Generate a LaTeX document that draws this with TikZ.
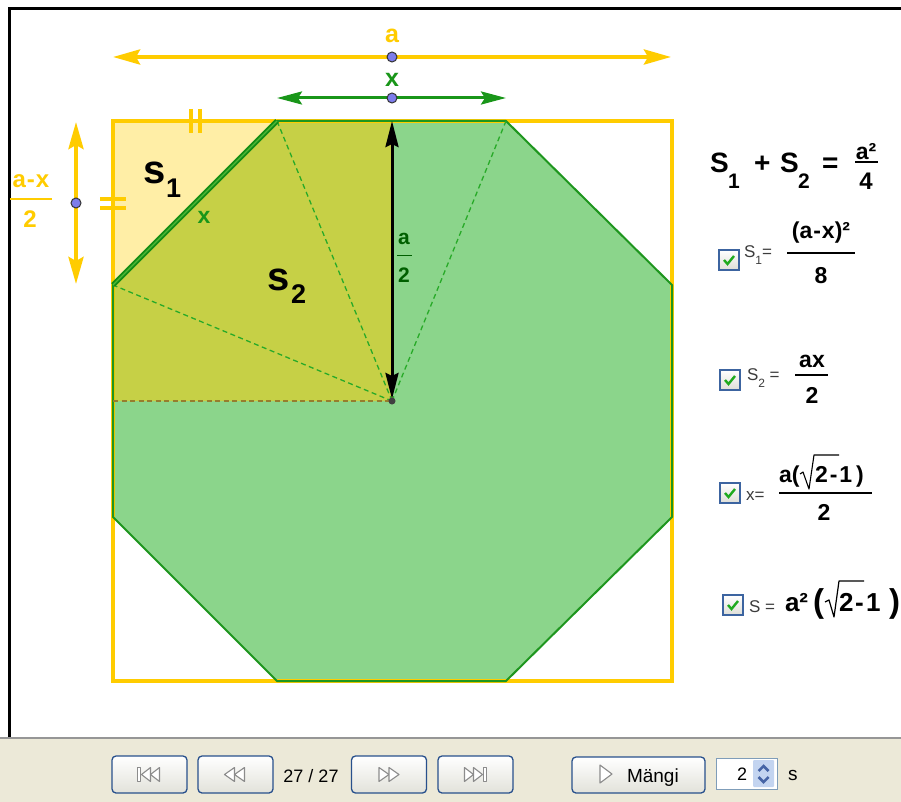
\documentclass[tikz,border=0pt]{standalone}
\usepackage{fontspec}
\setmainfont{Liberation Sans}
\usetikzlibrary{arrows.meta}
\newcommand{\myfs}[1]{\fontsize{#1}{#1}\selectfont}
\definecolor{gyel}{RGB}{255,204,0}
\definecolor{lyel}{RGB}{255,238,166}
\definecolor{myolive}{RGB}{198,208,70}
\definecolor{mygreen}{RGB}{139,213,139}
\definecolor{edgegreen}{RGB}{30,150,30}
\definecolor{diagdark}{RGB}{20,140,20}
\definecolor{diaglight}{RGB}{80,185,55}
\definecolor{dashgreen}{RGB}{40,170,40}
\definecolor{dashbrown}{RGB}{150,125,45}
\definecolor{labgreen}{RGB}{25,150,25}
\definecolor{darkgreenlab}{RGB}{0,95,0}
\definecolor{dotblue}{RGB}{125,125,235}
\definecolor{chkblue}{RGB}{60,100,160}
\definecolor{chkgray}{RGB}{222,222,215}
\definecolor{chkgreen}{RGB}{30,170,30}
\definecolor{barbg}{RGB}{236,233,216}
\definecolor{btnborder}{RGB}{40,80,140}
\definecolor{btnbot}{RGB}{226,226,218}
\definecolor{icongray}{RGB}{140,140,140}
\definecolor{spinborder}{RGB}{127,157,185}
\definecolor{spinfill}{RGB}{195,212,240}
\definecolor{spinarrow}{RGB}{70,100,165}
\definecolor{labgray}{RGB}{60,60,60}
\definecolor{sepgray}{RGB}{150,150,150}
\begin{document}
\begin{tikzpicture}[x=1pt,y=-1pt,
  txt/.style={inner sep=0pt,outer sep=0pt},
  bf/.style={txt,font=\myfs{#1}\bfseries},
  rg/.style={txt,font=\myfs{#1}},
  bdot/.style={circle,draw=black!80,line width=1pt,fill=dotblue,minimum size=10pt,inner sep=0pt},
  yarr/.style={gyel,line width=4pt,{Stealth[length=27pt,width=15pt,inset=4pt]}-{Stealth[length=27pt,width=15pt,inset=4pt]}},
  garr/.style={labgreen,line width=3pt,{Stealth[length=25pt,width=13pt,inset=4pt]}-{Stealth[length=25pt,width=13pt,inset=4pt]}},
  karr/.style={black,line width=3pt,{Stealth[length=26pt,width=13pt,inset=3pt]}-{Stealth[length=26pt,width=13pt,inset=3pt]}},
  dsh/.style={dashgreen,line width=1.3pt,dash pattern=on 5pt off 3.5pt},
  tickmark/.style={gyel,line width=4pt},
  chk/.style={draw=chkblue,line width=1.2pt,minimum size=20pt,inner sep=0pt,top color=white,bottom color=chkgray},
  chkmark/.style={chkgreen,line width=2.4pt},
  btn/.style={draw=btnborder,line width=1.3pt,rounded corners=4pt,top color=white,bottom color=btnbot,minimum width=75pt,minimum height=37pt,inner sep=0pt},
  icon/.style={draw=icongray,fill=white,line width=1.1pt,line join=round},
  fbar/.style={line width=1.4pt},
]
\useasboundingbox (0,0) rectangle (901,802);
\fill[white] (0,0) rectangle (901,802);
% toolbar background
\fill[barbg] (0,738) rectangle (901,802);
\draw[sepgray,line width=2pt] (0,737.5) -- (901,737.5);
% black frame
\draw[line width=3pt] (9,737) -- (9,9) -- (901,9);

% geometry
\coordinate (Q1) at (113,121);
\coordinate (Q2) at (672,121);
\coordinate (Q3) at (672,681);
\coordinate (Q4) at (113,681);
\coordinate (A) at (277,121);
\coordinate (B) at (506,121);
\coordinate (C) at (672,285);
\coordinate (D) at (672,517);
\coordinate (E) at (506,681);
\coordinate (F) at (277,681);
\coordinate (G) at (113,517);
\coordinate (H) at (113,285);
\coordinate (O) at (392,401);
\coordinate (T) at (392,121);
\coordinate (L) at (113,401);

\fill[mygreen] (A) -- (B) -- (C) -- (D) -- (E) -- (F) -- (G) -- (H) -- cycle;
\fill[myolive] (A) -- (T) -- (O) -- (L) -- (H) -- cycle;
\fill[lyel] (Q1) -- (A) -- (H) -- cycle;
\draw[gyel,line width=4pt] (Q1) -- (Q2) -- (Q3) -- (Q4) -- cycle;
\draw[edgegreen,line width=2pt,line join=round] (A) -- (B) -- (C) -- (D) -- (E) -- (F) -- (G) -- (H) -- cycle;
\draw[dsh] (O) -- (A);
\draw[dsh] (O) -- (B);
\draw[dsh] (O) -- (H);
\draw[dashbrown,line width=1.3pt,dash pattern=on 5pt off 3.5pt] (L) -- (O);
\draw[diagdark,line width=5pt] (H) -- (A);
\draw[diaglight,line width=1.3pt] (H) -- (A);
\draw[karr,shorten >=2pt] (T) -- (O);
\node[circle,fill=black!75,minimum size=7pt,inner sep=0pt] (Odot) at (O) {};

% tick marks
\draw[tickmark] (190.5,109) -- (190.5,133);
\draw[tickmark] (199.5,109) -- (199.5,133);
\draw[tickmark] (100,199) -- (126,199);
\draw[tickmark] (100,208) -- (126,208);

% top arrows
\coordinate (aL) at (113,57);
\coordinate (aR) at (671,57);
\draw[yarr] (aL) -- (aR);
\node[bdot] (da) at (392,57) {};
\node[bf=25,anchor=base,text=gyel] (la) at (392,43) {a};
\coordinate (xL) at (277,98);
\coordinate (xR) at (506,98);
\draw[garr] (xL) -- (xR);
\node[bdot] (dx) at (392,98) {};
\node[bf=25,anchor=base,text=labgreen] (lx) at (392,87) {x};

% left vertical arrow
\coordinate (vT) at (76,122);
\coordinate (vB) at (76,284);
\draw[yarr] (vT) -- (vB);
\node[bdot] (dv) at (76,203) {};
\node[bf=24,anchor=base,text=gyel] (lxn) at (31,188) {a\kern1pt-\kern1pt x};
\draw[gyel,fbar] (10,199) -- (52,199);
\node[bf=24,anchor=base,text=gyel] (lxd) at (30,227) {2};

% labels in figure
\node[bf=40,anchor=base west] (s1) at (143,184) {s};
\node[bf=27,anchor=base west] (s1i) at (166,198) {1};
\node[bf=40,anchor=base west] (s2) at (267,290) {s};
\node[bf=27,anchor=base west] (s2i) at (291,303) {2};
\node[bf=23,anchor=base,text=labgreen] (xd) at (204,223) {x};
\node[bf=21,anchor=base,text=darkgreenlab] (ahn) at (404,244) {a};
\draw[darkgreenlab,fbar] (397,255.5) -- (412,255.5);
\node[bf=21,anchor=base,text=darkgreenlab] (ahd) at (404,282) {2};

% big formula
\node[bf=28,anchor=base west] (S1big) at (710,173) {S};
\node[bf=21,anchor=base west] (S1sub) at (728,189) {1};
\node[bf=28,anchor=base west] (plus) at (754,173) {+};
\node[bf=28,anchor=base west] (S2big) at (780,173) {S};
\node[bf=21,anchor=base west] (S2sub) at (798,189) {2};
\node[bf=28,anchor=base west] (eqbig) at (822,173) {=};
\node[bf=23,anchor=base] (fbn) at (866,160) {a²};
\draw[fbar] (855,162) -- (878,162);
\node[bf=24,anchor=base] (fbd) at (866,190) {4};

% row 1
\node[chk] (c1) at (729,260) {};
\draw[chkmark] ([shift={(-5,0)}]c1.center) -- ([shift={(-1.5,4)}]c1.center) -- ([shift={(5,-4)}]c1.center);
\node[rg=17,anchor=base west,text=labgray] (l1) at (744,258) {S\raisebox{-6pt}{\myfs{12}1}=};
\node[bf=23,anchor=base] (n1) at (821,238) {(a\kern1pt-\kern1pt x)²};
\draw[fbar] (787,253) -- (855,253);
\node[bf=23,anchor=base] (d1) at (821,283) {8};

% row 2
\node[chk] (c2) at (730,380) {};
\draw[chkmark] ([shift={(-5,0)}]c2.center) -- ([shift={(-1.5,4)}]c2.center) -- ([shift={(5,-4)}]c2.center);
\node[rg=17,anchor=base west,text=labgray] (l2) at (747,380) {S\raisebox{-7pt}{\myfs{12}2} =};
\node[bf=23,anchor=base] (n2) at (812,367) {ax};
\draw[fbar] (795,375) -- (828,375);
\node[bf=23,anchor=base] (d2) at (812,403) {2};

% row 3
\node[chk] (c3) at (730,493) {};
\draw[chkmark] ([shift={(-5,0)}]c3.center) -- ([shift={(-1.5,4)}]c3.center) -- ([shift={(5,-4)}]c3.center);
\node[rg=17,anchor=base west,text=labgray] (l3) at (746,500) {x=};
\node[bf=23,anchor=base west] (n3a) at (779,482) {a(};
\draw[line width=1.1pt,line join=round] (800,474) -- (803,472) -- (809,489) -- (814,455) -- (839,455);
\node[bf=23,anchor=base west] (n3b) at (815,482) {2\kern2pt-\kern2pt1\kern4pt)};
\draw[fbar] (779,493) -- (872,493);
\node[bf=23,anchor=base] (d3) at (824,520) {2};

% row 4
\node[chk] (c4) at (733,605) {};
\draw[chkmark] ([shift={(-5,0)}]c4.center) -- ([shift={(-1.5,4)}]c4.center) -- ([shift={(5,-4)}]c4.center);
\node[rg=17,anchor=base west,text=labgray] (l4) at (749,612) {S =};
\node[bf=26,anchor=base west] (r4a) at (785,611) {a²};
\node[bf=33,anchor=base west] (r4p) at (813,612) {(};
\draw[line width=1.2pt,line join=round] (825,602) -- (829,600) -- (834,617) -- (839,581) -- (864,581);
\node[bf=26,anchor=base west] (r4b) at (839,611) {2};
\node[bf=26,anchor=base west] (r4c) at (855,611) {-};
\node[bf=26,anchor=base west] (r4d) at (866,611) {1};
\node[bf=33,anchor=base west] (r4q) at (889,612) {)};

% toolbar buttons
\node[btn] (b1) at (149.5,774.5) {};
\node[btn] (b2) at (235.5,774.5) {};
\node[btn] (b3) at (389,774.5) {};
\node[btn] (b4) at (475.5,774.5) {};
\begin{scope}[shift={(b1.center)}]
  \draw[icon] (-12,-7) rectangle (-9,7);
  \draw[icon] (-8,0) -- (1,-7) -- (1,7) -- cycle;
  \draw[icon] (1,0) -- (10,-7) -- (10,7) -- cycle;
\end{scope}
\begin{scope}[shift={(b2.center)}]
  \draw[icon] (-11,0) -- (-1,-7) -- (-1,7) -- cycle;
  \draw[icon] (-1,0) -- (9,-7) -- (9,7) -- cycle;
\end{scope}
\begin{scope}[shift={(b3.center)}]
  \draw[icon] (-10,-7) -- (0,0) -- (-10,7) -- cycle;
  \draw[icon] (0,-7) -- (10,0) -- (0,7) -- cycle;
\end{scope}
\begin{scope}[shift={(b4.center)}]
  \draw[icon] (-11,-7) -- (-2,0) -- (-11,7) -- cycle;
  \draw[icon] (-2,-7) -- (7,0) -- (-2,7) -- cycle;
  \draw[icon] (8,-7) rectangle (11,7);
\end{scope}
\node[rg=18,anchor=base] (cnt) at (311,782) {27 / 27};
\node[btn,minimum width=133pt,minimum height=36pt] (bm) at (638.5,775) {};
\draw[icon] (600,765) -- (612,774) -- (600,783) -- cycle;
\node[rg=19,anchor=base west] (mg) at (627,782) {Mängi};
\node[draw=spinborder,fill=white,line width=1pt,minimum width=61pt,minimum height=31pt,inner sep=0pt] (sp) at (746.5,773.5) {};
\fill[spinfill,rounded corners=1pt] (753,760) rectangle (774,787);
\draw[spinarrow,line width=2.5pt] (758.5,771) -- (763.5,766) -- (768.5,771);
\draw[spinarrow,line width=2.5pt] (758.5,777) -- (763.5,782) -- (768.5,777);
\node[rg=18,anchor=base] (spv) at (742,780) {2};
\node[rg=19,anchor=base west] (unit) at (788,780) {s};
\end{tikzpicture}
\end{document}
